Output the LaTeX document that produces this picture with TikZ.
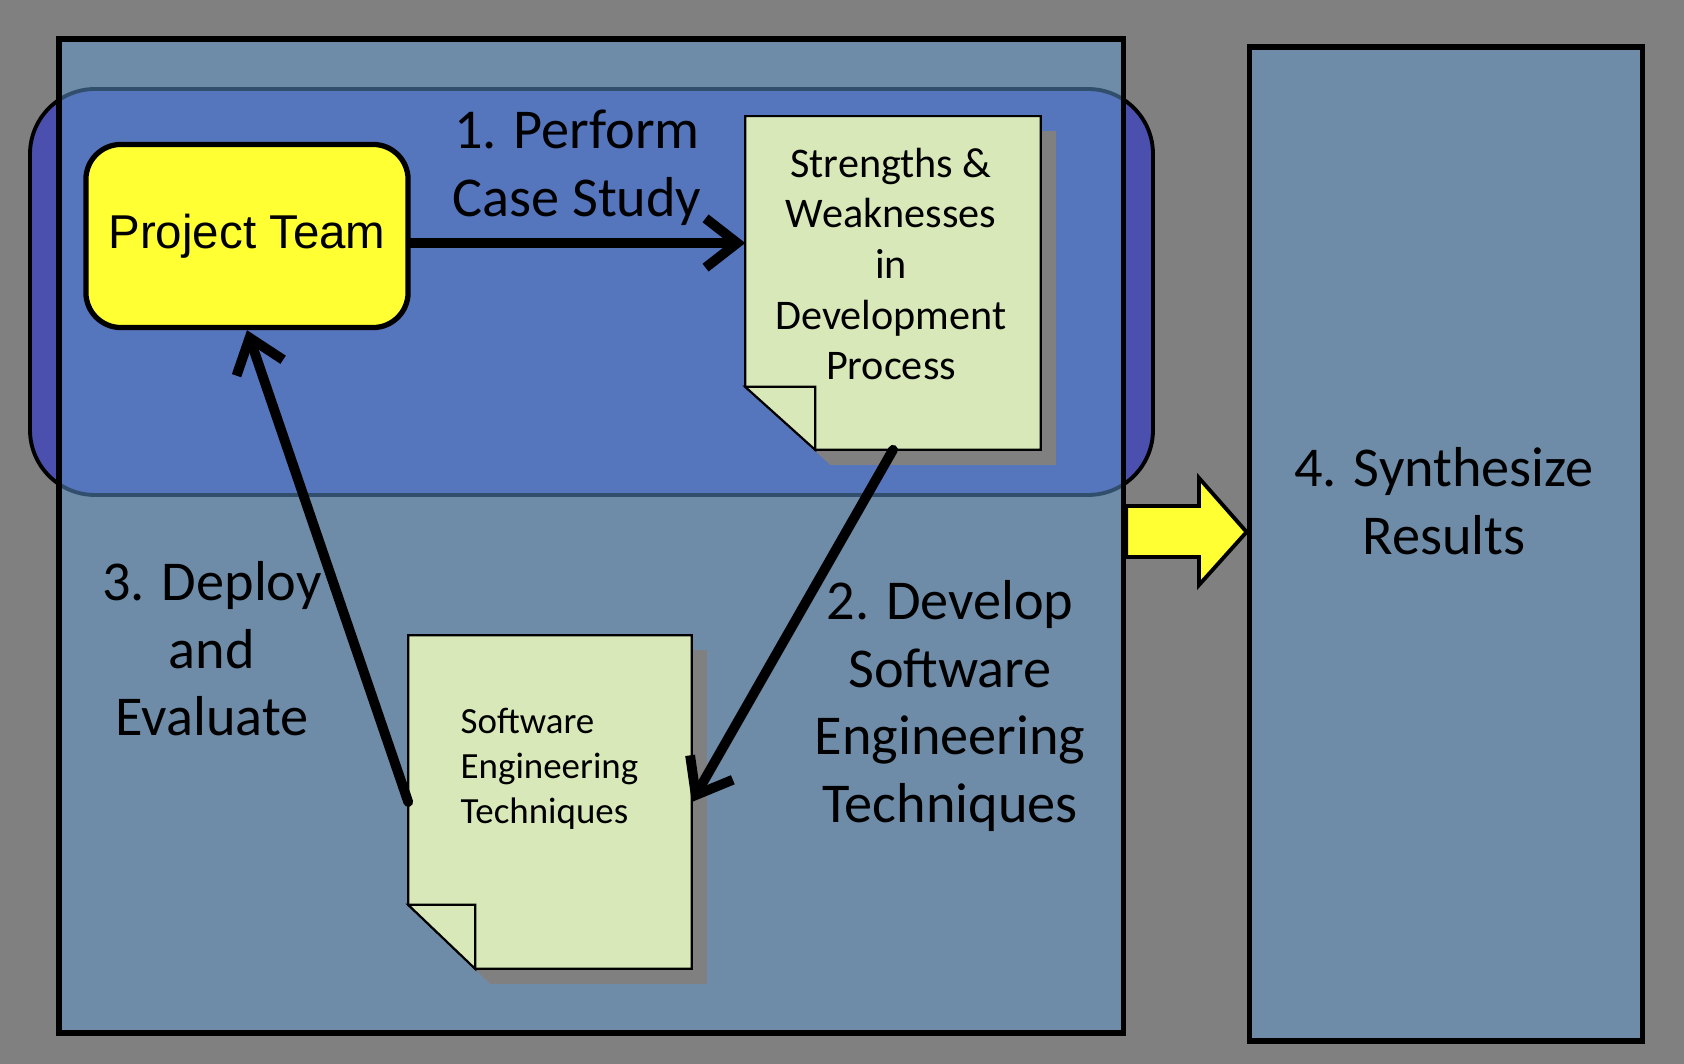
\documentclass[tikz,border=0pt]{standalone}
\usepackage{fontspec}
\setmainfont{Carlito}
\newfontfamily\teamfont{Liberation Sans}
\usetikzlibrary{positioning,arrows.meta,calc}

\definecolor{bggray}{RGB}{128,128,128}
\definecolor{stageblue}{RGB}{94,151,204}
\definecolor{bandblue}{RGB}{75,79,174}
\definecolor{notegreen}{RGB}{216,232,185}
\definecolor{teamyellow}{RGB}{255,255,51}

\begin{document}
\begin{tikzpicture}[
  x=0.01cm, y=-0.01cm,
  stage/.style={rectangle, draw=black, line width=1.6pt, fill=stageblue, fill opacity=0.53, minimum height=9.94cm},
  band/.style={draw=black, line width=1.1pt, fill=bandblue, rounded corners=0.65cm},
  paper/.style={rectangle, minimum width=#1, minimum height=3.32cm, inner sep=0pt},
  team/.style={rectangle, draw, line width=1.5pt, fill=teamyellow, rounded corners=0.35cm, minimum width=3.22cm, minimum height=1.83cm, font=\teamfont\fontsize{13.5}{16}\selectfont},
  steplabel/.style={align=center, inner sep=0pt, font=\fontsize{16}{19.2}\selectfont},
  flow/.style={-{Straight Barb[length=9pt, width=14pt]}, line width=2.8pt, line cap=round},
  bigarrow/.style={draw=black, line width=1.1pt, fill=teamyellow, line join=miter}
]
  \fill[bggray, use as bounding box] (0,0) rectangle (1684,1064);
  \draw[band] (30,89) rectangle (1153,495);
  \node[stage, minimum width=10.64cm] (casebox) at (591,536) {};
  \node[stage, minimum width=3.93cm] (synth) at (1446,544) {};

  % block arrow between the two stages
  \draw[bigarrow] (casebox.east |- 0,506) -- (1199,506) -- (1199,478) -- (synth.west |- 0,532)
    -- (1199,585) -- (1199,557) -- (casebox.east |- 0,557) -- cycle;

  % folded pages with shadow
  \node[paper=2.94cm] (doc1) at (893,283) {};
  \node[paper=2.82cm] (doc2) at (550,802) {};
  \foreach \d/\fw/\fh in {doc1/70/63, doc2/67/64} {
    \fill[bggray] ($(\d.north west)+(15,15)$) -- ($(\d.north east)+(15,15)$) -- ($(\d.south east)+(15,15)$)
      -- ($(\d.south west)+(\fw+15,15)$) -- ($(\d.south west)+(15,15-\fh)$) -- cycle;
    \draw[fill=notegreen, line width=0.6pt] (\d.north west) -- (\d.north east) -- (\d.south east)
      -- ($(\d.south west)+(\fw,0)$) -- ($(\d.south west)+(0,-\fh)$) -- cycle;
    \draw[fill=notegreen, line width=0.6pt] ($(\d.south west)+(0,-\fh)$) -- ++(\fw,0) -- ++(0,\fh) -- cycle;
  }
  \node[align=center, inner sep=0pt, font=\fontsize{12}{14.4}\selectfont] (doc1txt) at ($(doc1)+(-2,-19)$) {Strengths \&\\Weaknesses\\in\\Development\\Process};
  \node[align=left, anchor=west, inner sep=0pt, font=\fontsize{10.5}{12.8}\selectfont] (doc2txt) at (460,769) {Software\\Engineering\\Techniques};

  \node[team] (team) at (247,236) {Project Team};

  % step labels
  \node[steplabel] (perform) at (577,168) {1. Perform\\Case Study};
  \node[steplabel] (develop) at (950,706) {2. Develop\\Software\\Engineering\\Techniques};
  \node[steplabel] (deploy) at (212,649) {3. Deploy\\and\\Evaluate};
  \node[steplabel] (synthesize) at (1444,501) {4. Synthesize\\Results};

  \draw[flow] ([yshift=-0.07cm]team.east) -- ([yshift=-0.07cm]team.east -| doc1.west);
  \draw[flow] (doc1.south) -- (doc2.east);
  \draw[flow] (doc2.west) -- (team.south);
\end{tikzpicture}
\end{document}
